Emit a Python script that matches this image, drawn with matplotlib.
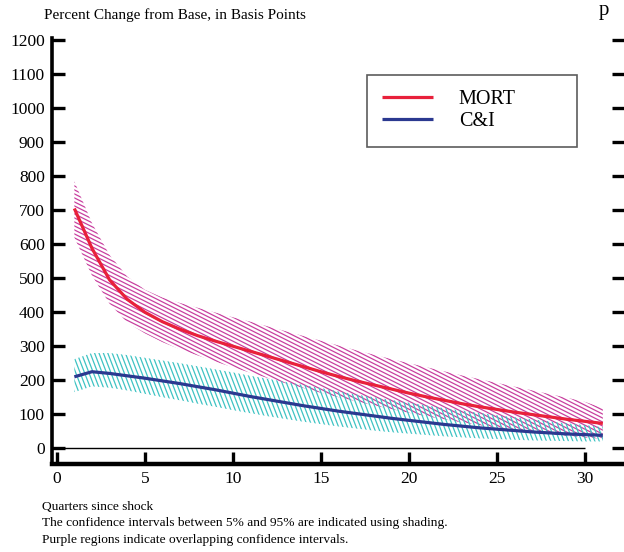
import numpy as np
import matplotlib
matplotlib.use("Agg")
import matplotlib.pyplot as plt
from matplotlib.collections import LineCollection

plt.rcParams['font.family'] = ['Liberation Serif', 'DejaVu Serif']

quarters = np.arange(1, 32)

mort = [705, 588, 495, 438, 400, 372, 350, 331, 315, 300,
        285, 270, 255, 240, 225, 211, 198, 186, 174, 162,
        151, 141, 131, 122, 114, 106, 99, 92, 85, 79, 73]
mort_hi = [785, 662, 568, 505, 466, 443, 427, 413, 399, 385,
           372, 358, 344, 330, 316, 302, 288, 275, 262, 250,
           238, 226, 214, 203, 192, 181, 170, 159, 148, 136, 118]
mort_lo = [620, 508, 425, 370, 338, 312, 291, 273, 255, 238,
           222, 206, 191, 177, 163, 150, 138, 126, 115, 104,
           94, 85, 76, 68, 60, 53, 47, 41, 36, 31, 28]

ci = [210, 225, 220, 213, 206, 198, 190, 181, 172, 162,
      152, 143, 134, 125, 117, 109, 102, 95, 88, 82,
      76, 70, 65, 60, 56, 52, 48, 45, 42, 40, 38]
ci_hi = [262, 280, 280, 274, 266, 258, 250, 241, 232, 223,
         213, 204, 195, 186, 177, 167, 158, 150, 142, 134,
         126, 118, 111, 104, 97, 91, 85, 79, 73, 68, 62]
ci_lo = [165, 182, 178, 170, 160, 150, 141, 131, 122, 112,
         103, 94, 86, 78, 71, 64, 58, 52, 47, 43,
         39, 35, 32, 29, 27, 25, 23, 22, 21, 20, 20]

yticks = np.arange(0, 1201, 100)
xticks = np.arange(0, 31, 5)

fig = plt.figure(figsize=(6.24, 5.52), dpi=100)
ax = fig.add_axes([0.083, 0.159, 0.917, 0.772])
ax.set_xlim(-0.28, 32.2)
ax.set_ylim(-47, 1206)


def hatch_band(x, lo, hi, color, slope_px, step_px, vertical):
    # draw diagonal hatch lines clipped to the band between lo and hi
    poly = ax.fill_between(x, lo, hi, facecolor='none', edgecolor='none')
    fig.canvas.draw()
    t = ax.transData
    p0 = t.transform((0, 0))
    px = t.transform((1, 0))[0] - p0[0]
    py = t.transform((0, 1))[1] - p0[1]
    slope = -slope_px * px / py  # data units of y per quarter
    segs = []
    xa, xb = min(x) - 1, max(x) + 1
    if not vertical:
        step = step_px / py
        c0 = min(lo) - abs(slope) * 40 - 100
        c1 = max(hi) + abs(slope) * 40 + 100
        for c in np.arange(c0, c1, step):
            segs.append([(xa, c + slope * xa), (xb, c + slope * xb)])
    else:
        step = step_px / px
        ya, yb = min(lo) - 50, max(hi) + 50
        for c in np.arange(xa - 20, xb + 20, step):
            segs.append([(c + ya / slope, ya), (c + yb / slope, yb)])
    lc = LineCollection(segs, colors=color, linewidths=0.9)
    ax.add_collection(lc)
    lc.set_clip_path(poly.get_paths()[0], t)
    ax.set_xlim(-0.28, 32.2)
    ax.set_ylim(-47, 1206)


hatch_band(quarters, mort_lo, mort_hi, '#c8409f', 0.5, 4.0, False)
hatch_band(quarters, ci_lo, ci_hi, '#3ec3c3', 2.6, 4.4, True)

ax.plot(quarters, mort, color='#e8213b', lw=2.3, label='MORT', solid_capstyle='butt')
ax.plot(quarters, ci, color='#2b3990', lw=2.3, label='C&I', solid_capstyle='butt')
ax.hlines(0, 0, 30, color='black', lw=1.0)

for s in ['top', 'right']:
    ax.spines[s].set_visible(False)
ax.spines['left'].set_linewidth(2.6)
ax.spines['bottom'].set_linewidth(3.2)

ax.set_yticks(yticks)
ax.set_xticks(xticks)
ax.tick_params(axis='y', direction='in', length=9, width=2.4, right=True,
               labelsize=12.5, pad=5)
ax.tick_params(axis='x', direction='in', length=9, width=2.4,
               labelsize=12.5, pad=5)

leg = ax.legend(loc='upper left', bbox_to_anchor=(0.551, 0.913, 0.367, 0),
                mode='expand', fontsize=14.5,
                frameon=True, fancybox=False, edgecolor='#333333',
                handlelength=2.5, handletextpad=1.3, borderpad=0.75,
                labelspacing=0.15, borderaxespad=0)
leg.get_frame().set_linewidth(1.2)

fig.text(0.07, 0.972, 'Percent Change from Base, in Basis Points',
         fontsize=11, va='center')
fig.text(0.968, 0.998, 'p', fontsize=15, va='top', ha='center')
fig.text(0.067, 0.081, 'Quarters since shock', fontsize=9.6, va='center')
fig.text(0.067, 0.052, 'The confidence intervals between 5% and 95% are indicated using shading.',
         fontsize=9.6, va='center')
fig.text(0.067, 0.022, 'Purple regions indicate overlapping confidence intervals.',
         fontsize=9.6, va='center')

fig.savefig('out.png', dpi=100)
